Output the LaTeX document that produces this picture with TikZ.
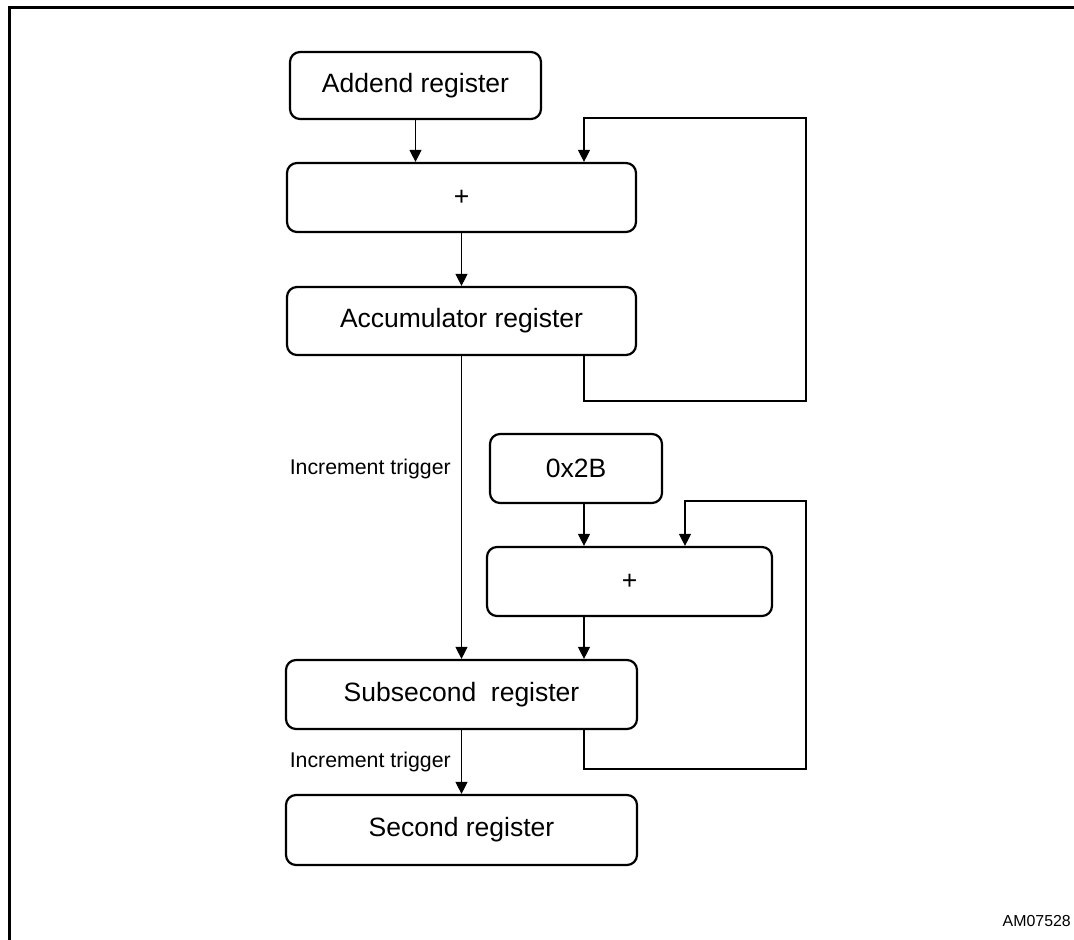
\documentclass[tikz,border=0pt]{standalone}
\usepackage{fontspec}
\setmainfont{Liberation Sans}
\usetikzlibrary{arrows.meta}
\begin{document}
\begin{tikzpicture}[x=1pt,y=-1pt,
  reg/.style={draw,line width=2.2pt,rounded corners=10pt,inner sep=0pt,
    font=\fontsize{26.5}{30}\selectfont},
  conn/.style={line width=1.2pt},
  arr/.style={conn,-{Triangle[length=12pt,width=12pt]}},
  lbl/.style={anchor=east,inner sep=0pt,font=\fontsize{21.3}{24}\selectfont}]
\useasboundingbox (0,0) rectangle (1074,940);
\clip (0,0) rectangle (1074,940);
\draw[line width=3pt] (9.5,960) -- (9.5,7.5) -- (1090,7.5);

\node[reg,minimum width=251pt,minimum height=67pt] (add) at (415.5,85.5) {Addend register};
\node[reg,minimum width=349pt,minimum height=69pt] (plusA) at (461.5,197.5) {+};
\node[reg,minimum width=349pt,minimum height=68pt] (acc) at (461.5,321) {Accumulator register};
\node[reg,minimum width=172pt,minimum height=69pt] (hex) at (576,468.5) {0x2B};
\node[reg,minimum width=285pt,minimum height=69pt] (plusB) at (629.5,581.5) {+};
\node[reg,minimum width=351pt,minimum height=69pt] (sub) at (461.5,694.5) {Subsecond\ \ register};
\node[reg,minimum width=351pt,minimum height=70pt] (sec) at (461.5,830) {Second register};

\node[lbl] (trigA) at (451,469) {Increment trigger};
\node[lbl] (trigB) at (451,762) {Increment trigger};
\node[anchor=east,inner sep=0pt,font=\fontsize{15.9}{18}\selectfont] (am) at (1071,921) {AM07528};

\coordinate (fa) at (584,401);
\coordinate (fb) at (806,401);
\coordinate (fc) at (806,118);
\coordinate (fd) at (584,118);
\coordinate (ga) at (584,769);
\coordinate (gb) at (806,769);
\coordinate (gc) at (806,501);
\coordinate (gd) at (685,501);
\coordinate (hx) at (584,0);

\draw[arr] (add.south) -- (plusA.north -| add.south);
\draw[arr] (plusA.south) -- (acc.north);
\draw[arr] (acc.south -| fa) -- (fa) -- (fb) -- (fc) -- (fd) -- (plusA.north -| fd);
\draw[arr] (acc.south) -- (sub.north);
\draw[arr] (hex.south -| hx) -- (plusB.north -| hx);
\draw[arr] (plusB.south -| hx) -- (sub.north -| hx);
\draw[arr] (sub.south -| ga) -- (ga) -- (gb) -- (gc) -- (gd) -- (plusB.north -| gd);
\draw[arr] (sub.south) -- (sec.north);
\end{tikzpicture}
\end{document}
